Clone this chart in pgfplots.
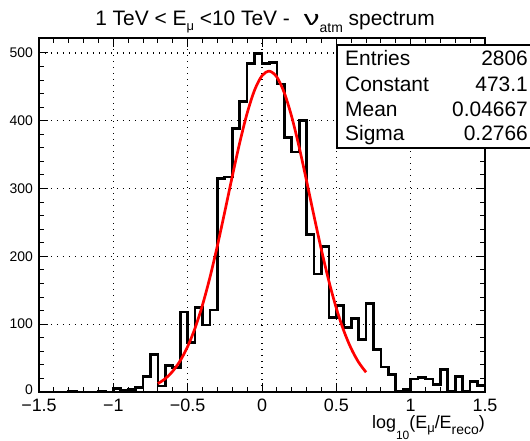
\documentclass[border=0pt]{standalone}
\usepackage{fontspec}
\setmainfont{Liberation Sans}
\usepackage{graphicx}
\usepackage{pgfplots}
\pgfplotsset{compat=1.18}
\newcommand{\sub}[3][4.5bp]{\raisebox{-#1}{\fontsize{#2}{#2}\selectfont #3}}
\begin{document}
\begin{tikzpicture}
\begin{axis}[
  at={(0,0)}, anchor=south west, scale only axis,
  width=446bp, height=354bp,
  xmin=-1.5, xmax=1.5, ymin=0, ymax=522,
  xtick={-1.5,-1,-0.5,0,0.5,1,1.5},
  xticklabels={−1.5,−1,−0.5,0,0.5,1,1.5},
  ytick={0,100,200,300,400,500},
  yticklabels={\raisebox{5bp}{0},100,200,300,400,500},
  minor x tick num=4, minor y tick num=4,
  xtick pos=both, ytick pos=both,
  tick align=inside,
  major tick length=9bp, minor tick length=5bp,
  every tick/.style={black, line width=1bp},
  grid=major,
  major grid style={black, line width=1.2bp, dash pattern=on 1.4bp off 4.6bp},
  axis line style={line width=1.5bp},
  /pgf/number format/assume math mode=true,
  xticklabel style={font=\fontsize{18}{19}\selectfont, anchor=base, yshift=-19bp, inner sep=0pt},
  yticklabel style={font=\fontsize{14}{15}\selectfont, anchor=east, xshift=-6bp, inner sep=0pt},
]
\addplot[const plot mark left, black, line width=2.7bp, line join=miter] coordinates {
(-1.50,0) (-1.45,0) (-1.40,0) (-1.35,0) (-1.30,1) (-1.25,0) (-1.20,0) (-1.15,0)
(-1.10,1) (-1.05,0) (-1.00,5) (-0.95,2) (-0.90,4) (-0.85,7) (-0.80,23) (-0.75,55)
(-0.70,9) (-0.65,39) (-0.60,36) (-0.55,118) (-0.50,73) (-0.45,125) (-0.40,99) (-0.35,121)
(-0.30,315) (-0.25,317) (-0.20,389) (-0.15,428) (-0.10,484) (-0.05,499) (0.00,484) (0.05,486)
(0.10,454) (0.15,375) (0.20,354) (0.25,400) (0.30,232) (0.35,174) (0.40,215) (0.45,110)
(0.50,128) (0.55,95) (0.60,108) (0.65,77) (0.70,130) (0.75,63) (0.80,37) (0.85,26)
(0.90,1) (0.95,4) (1.00,19) (1.05,21) (1.10,19) (1.15,11) (1.20,33) (1.25,1)
(1.30,23) (1.35,1) (1.40,15) (1.45,10) (1.50,10)
};
\addplot[red, line width=2.7bp, smooth] coordinates {
(-0.70,12.37) (-0.65,19.84) (-0.60,30.77) (-0.55,46.19) (-0.50,67.12) (-0.45,94.37)
(-0.40,128.46) (-0.35,169.19) (-0.30,215.71) (-0.25,266.16) (-0.20,317.90) (-0.15,367.43)
(-0.10,411.05) (-0.05,445.07) (0.00,466.41) (0.05,473.07) (0.10,464.39) (0.15,441.21)
(0.20,405.72) (0.25,361.09) (0.30,311.04) (0.35,259.32) (0.40,209.23) (0.45,163.39)
(0.50,123.50) (0.55,90.35) (0.60,63.97) (0.65,43.84) (0.70,29.07)
};
\draw[line width=2.8bp] (rel axis cs:0,1) -- (rel axis cs:0,0) -- (rel axis cs:1,0);
\end{axis}
% stat box
\draw[line width=1.5bp, fill=white] (298bp,244bp) rectangle (496bp,347bp);
\begin{scope}[every node/.style={font=\fontsize{21}{22}\selectfont, inner sep=0pt}]
\node[anchor=base west] at (306bp,326bp) {Entries};
\node[anchor=base east] at (489bp,326bp) {2806};
\node[anchor=base west] at (306bp,300.5bp) {Constant};
\node[anchor=base east] at (489bp,300.5bp) {473.1};
\node[anchor=base west] at (306bp,275.5bp) {Mean};
\node[anchor=base east] at (489bp,275.5bp) {0.04667};
\node[anchor=base west] at (306bp,251.5bp) {Sigma};
\node[anchor=base east] at (489bp,251.5bp) {0.2766};
\end{scope}
% title
\node[anchor=base, inner sep=0pt, font=\fontsize{21}{22}\selectfont] at (226bp,366bp)
  {1 TeV < E\sub[5bp]{13}{μ} <10 TeV -\hspace{14bp}\scalebox{1.5}[1]{ν}\sub[7bp]{14}{atm} spectrum};
% x label
\node[anchor=base east, inner sep=0pt, font=\fontsize{18}{19}\selectfont] at (446bp,-36.5bp)
  {log\sub[11bp]{12}{10}(E\sub[4bp]{13}{μ}/E\sub[5.5bp]{14}{reco})};
\pgfresetboundingbox
\path (-39bp,-49bp) rectangle (491bp,392bp);
\end{tikzpicture}
\end{document}
